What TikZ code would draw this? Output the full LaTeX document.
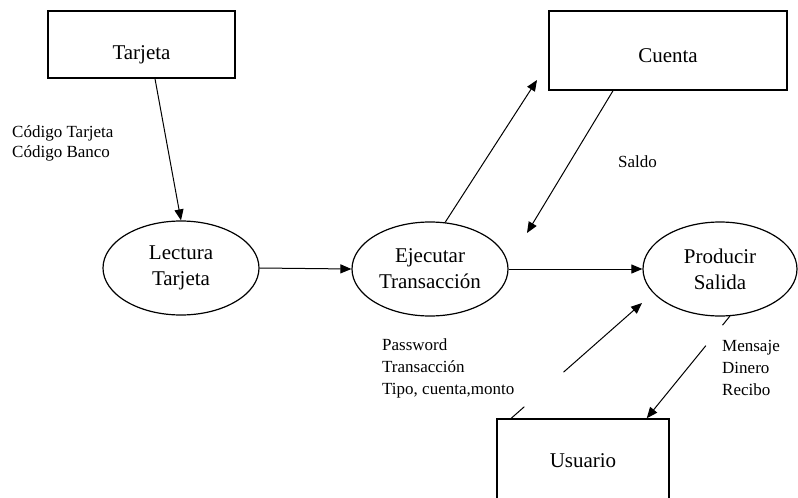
\documentclass[tikz,border=0pt]{standalone}
\usepackage{fontspec}
\setmainfont{Liberation Serif}
\usetikzlibrary{arrows.meta,calc,shapes.geometric}
% draw a box's text a little lower without changing the box size
\newcommand{\shiftdown}[2]{\raisebox{-#1}[\height][\depth]{#2}}
\begin{document}
\begin{tikzpicture}[x=1pt,y=-1pt,
  entity/.style={draw,line width=1.5pt,rectangle,inner sep=0pt,font=\fontsize{21}{25}\selectfont},
  process/.style={draw,line width=1.2pt,ellipse,inner sep=0pt,minimum width=156pt,minimum height=94pt,font=\fontsize{21}{26}\selectfont,align=center},
  flow/.style={line width=1pt,-{Triangle[length=11pt,width=9pt]}},
  trace/.style={line width=1pt},
  note/.style={inner sep=0pt,anchor=west,align=left,font=\fontsize{17}{22}\selectfont}]
\useasboundingbox (0,0) rectangle (798,498);

% external entities
\node[entity,minimum width=187pt,minimum height=67pt] (tarjeta) at (141.5,44.5) {\shiftdown{10pt}{Tarjeta}};
\node[entity,minimum width=238pt,minimum height=79pt] (cuenta) at (668,50.5) {\shiftdown{5pt}{Cuenta}};
\node[entity,minimum width=172pt,minimum height=84pt] (usuario) at (583,461) {Usuario};

% processes
\node[process] (lectura) at (181,268) {Lectura\\Tarjeta};
\node[process] (ejecutar) at (430,269) {Ejecutar\\Transacción};
\node[process,minimum width=154pt] (producir) at (720,269) {Producir\\Salida};

% free ends and start points of the flows
\coordinate (tarjetaout) at ($(tarjeta.south)+(13.5,0)$);
\coordinate (cuentain) at (537,80);
\coordinate (cuentaout) at ($(cuenta.south)+(-55,0)$);
\coordinate (ejecutarin) at (527,233);
\coordinate (usuarioout) at ($(usuario.north west)+(15,0)$);
\coordinate (producirin) at (642,303);
\coordinate (producirout) at (730,316);
\coordinate (usuarioin) at ($(usuario.north east)+(-23,0)$);

% data flows
\draw[flow] (tarjetaout) -- (lectura.north);
\draw[flow] (lectura.east) -- (ejecutar.west);
\draw[flow] (ejecutar.72) -- (cuentain);
\draw[flow] (cuentaout) -- (ejecutarin);
\draw[flow] (ejecutar.east) -- (producir.west);
\draw[trace] (usuarioout) -- ($(usuarioout)!0.1!(producirin)$);
\draw[flow] ($(usuarioout)!0.4!(producirin)$) -- (producirin);
\draw[trace] (producirout) -- ($(producirout)!0.09!(usuarioin)$);
\draw[flow] ($(producirout)!0.29!(usuarioin)$) -- (usuarioin);

% flow labels
\node[note,font=\fontsize{17}{20}\selectfont] (codigos) at (12,143.5) {Código Tarjeta\\Código Banco};
\node[note] (saldo) at (618,162) {Saldo};
\node[note] (entrada) at (382,368.5) {Password\\Transacción\\Tipo, cuenta,monto};
\node[note] (salida) at (722,368) {Mensaje\\Dinero\\Recibo};
\end{tikzpicture}
\end{document}
